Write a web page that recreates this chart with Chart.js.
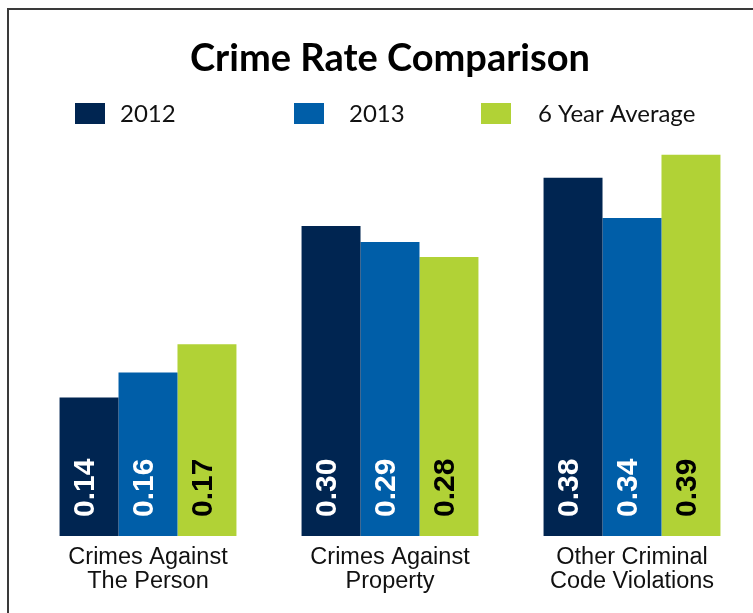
<!DOCTYPE html>
<html>
<head>
<meta charset="utf-8">
<script src="https://cdn.jsdelivr.net/npm/chart.js@4.4.1/dist/chart.umd.min.js"></script>
<style>
  html, body { margin: 0; padding: 0; background: #fff; }
  #wrap { position: relative; width: 753px; height: 613px; }
  #frame {
    position: absolute; left: 7px; top: 8px; right: 0; bottom: 0;
    border-left: 2px solid #3a3a3a; border-top: 2px solid #3a3a3a;
  }
  canvas { position: absolute; left: 0; top: 0; }
</style>
</head>
<body>
<div id="wrap">
  <div id="frame"></div>
  <canvas id="crimeChart" width="753" height="613"></canvas>
</div>
<script>
const categories = [
  ["Crimes Against", "The Person"],
  ["Crimes Against", "Property"],
  ["Other Criminal", "Code Violations"],
];
const seriesNames = ["2012", "2013", "6 Year Average"];
// bar heights as drawn in the picture
const rate2012 = [0.138, 0.309, 0.357];
const rate2013 = [0.163, 0.293, 0.317];
const rateAvg = [0.191, 0.278, 0.380];
// values printed on the bars
const label2012 = ["0.14", "0.30", "0.38"];
const label2013 = ["0.16", "0.29", "0.34"];
const labelAvg = ["0.17", "0.28", "0.39"];

const colors = ["#002551", "#005EA8", "#B1D236"];
const labelColors = ["#ffffff", "#ffffff", "#000000"];
const barLabels = [label2012, label2013, labelAvg];

// legend is spaced unevenly in the original, so it is drawn by hand
const legendBoxX = [75, 294, 481];
const legendTextGap = [15, 25, 27];

const barLabelPlugin = {
  id: "barLabels",
  afterDatasetsDraw(chart) {
    const ctx = chart.ctx;
    chart.data.datasets.forEach((ds, i) => {
      const meta = chart.getDatasetMeta(i);
      meta.data.forEach((bar, j) => {
        ctx.save();
        ctx.translate(bar.x - 3, bar.base - 19);
        ctx.rotate(-Math.PI / 2);
        ctx.font = "bold 30px 'Liberation Sans Narrow', 'Arial Narrow', 'Liberation Sans', sans-serif";
        ctx.fillStyle = labelColors[i];
        ctx.textAlign = "left";
        ctx.textBaseline = "middle";
        ctx.fillText(barLabels[i][j], 0, 0);
        ctx.restore();
      });
    });
  },
};

const legendPlugin = {
  id: "manualLegend",
  afterDraw(chart) {
    const ctx = chart.ctx;
    ctx.save();
    ctx.font = "24px Lato, 'Open Sans', sans-serif";
    ctx.textBaseline = "middle";
    ctx.textAlign = "left";
    chart.data.datasets.forEach((ds, i) => {
      ctx.fillStyle = ds.backgroundColor;
      ctx.fillRect(legendBoxX[i], 103, 30, 21);
      ctx.fillStyle = "#111";
      ctx.fillText(ds.label, legendBoxX[i] + 30 + legendTextGap[i], 114);
    });
    ctx.restore();
  },
};

const ctx = document.getElementById("crimeChart").getContext("2d");
new Chart(ctx, {
  type: "bar",
  data: {
    labels: categories,
    datasets: [
      { label: seriesNames[0], data: rate2012, backgroundColor: colors[0] },
      { label: seriesNames[1], data: rate2013, backgroundColor: colors[1] },
      { label: seriesNames[2], data: rateAvg, backgroundColor: colors[2] },
    ],
  },
  options: {
    responsive: false,
    animation: false,
    layout: { padding: { left: 27, right: 0, top: 0, bottom: 18 } },
    datasets: {
      bar: { categoryPercentage: 0.731, barPercentage: 1.0 },
    },
    scales: {
      x: {
        grid: { display: false },
        border: { display: false },
        ticks: {
          color: "#111",
          font: { family: "'Liberation Sans', Arial, sans-serif", size: 23.5, lineHeight: 1.0 },
          padding: 2,
          maxRotation: 0,
        },
      },
      y: {
        display: false,
        min: 0,
        max: 0.4,
      },
    },
    plugins: {
      title: {
        display: true,
        text: "Crime Rate Comparison",
        color: "#000",
        font: { family: "Lato, 'Open Sans', sans-serif", size: 38, weight: "bold" },
        padding: { top: 36, bottom: 53 },
      },
      legend: { display: false },
      tooltip: { enabled: false },
    },
  },
  plugins: [barLabelPlugin, legendPlugin],
});
</script>
</body>
</html>
